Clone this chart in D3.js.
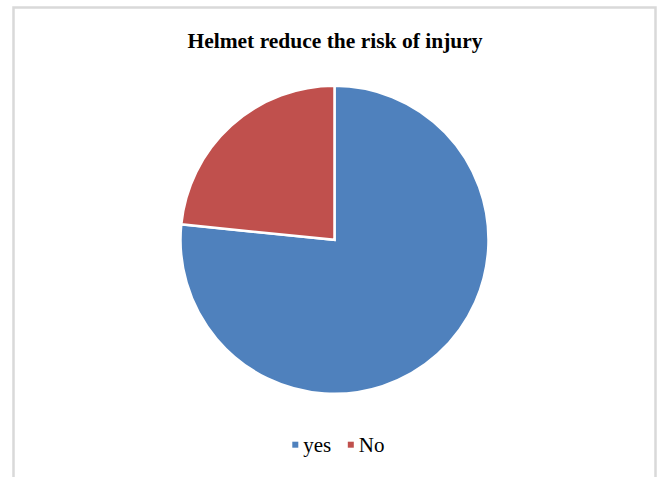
<!DOCTYPE html>
<html>
<head>
<meta charset="utf-8">
<script src="https://cdn.jsdelivr.net/npm/d3@7"></script>
<style>
  html, body { margin: 0; padding: 0; background: #fff; }
  svg { display: block; }
</style>
</head>
<body>
<svg id="chart" width="660" height="477"></svg>
<script>
// Survey answers: does a helmet reduce the risk of injury?
const categories = ["yes", "No"];
const values = [76.6, 23.4];
const colors = ["#4f81bd", "#c0504d"];
const title = "Helmet reduce the risk of injury";

const svg = d3.select("#chart");
const W = 660, H = 477;
const serif = "'Liberation Serif', 'Times New Roman', serif";

// Chart frame (open at the bottom edge of the page)
svg.append("path")
  .attr("d", `M13.5,${H} V7.5 H655.5 V${H}`)
  .attr("fill", "none")
  .attr("stroke", "#d9d9d9")
  .attr("stroke-width", 2.5);

svg.append("text")
  .attr("x", 335)
  .attr("y", 47.7)
  .attr("text-anchor", "middle")
  .attr("font-family", serif)
  .attr("font-weight", "bold")
  .attr("font-size", 21.5)
  .text(title);

const cx = 334.5, cy = 239.8, r = 154;

const color = d3.scaleOrdinal().domain(categories).range(colors);

const pie = d3.pie().sort(null).value(d => d.value);
const arc = d3.arc().innerRadius(0).outerRadius(r);

const data = categories.map((c, i) => ({ name: c, value: values[i] }));

svg.append("g")
  .attr("transform", `translate(${cx},${cy})`)
  .selectAll("path")
  .data(pie(data))
  .join("path")
  .attr("d", arc)
  .attr("fill", d => color(d.data.name))
  .attr("stroke", "#fff")
  .attr("stroke-width", 2.5)
  .attr("stroke-linejoin", "miter");

// Legend
const legend = svg.append("g").attr("transform", "translate(0,452.3)");
const legendX = [292.3, 347.8];
const items = legend.selectAll("g")
  .data(categories)
  .join("g")
  .attr("transform", (d, i) => `translate(${legendX[i]},0)`);

items.append("rect")
  .attr("x", 0)
  .attr("y", -10.6)
  .attr("width", 6)
  .attr("height", 6)
  .attr("fill", d => color(d));

items.append("text")
  .attr("x", 11)
  .attr("y", 0)
  .attr("font-family", serif)
  .attr("font-size", 21)
  .attr("fill", "#000")
  .text(d => d);
</script>
</body>
</html>
